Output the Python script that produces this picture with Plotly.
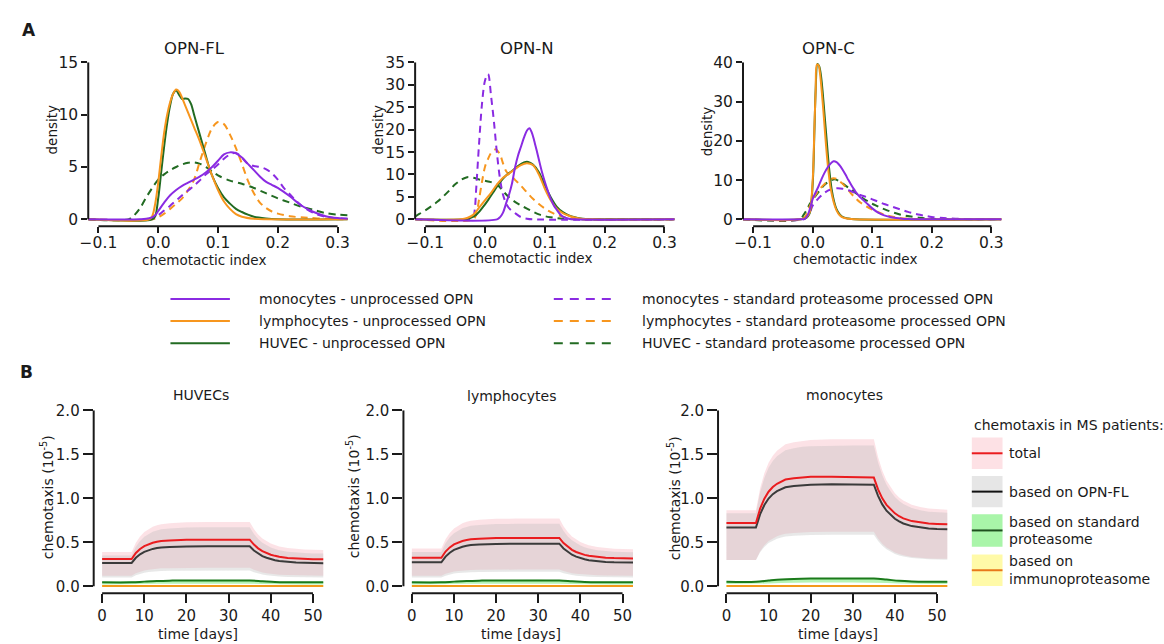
import plotly.graph_objects as go

W, H = 1164, 644


def fx(px):
    """pixel column -> paper x"""
    return px / W


def fy(py):
    """pixel row -> paper y"""
    return 1 - py / H


FONT = "DejaVu Sans"
INK = "#1a1a1a"
PURPLE = "#8a2be2"
ORANGE = "#f7961e"
GREEN = "#226b22"

# ---------------- Panel A: density of the chemotactic index ----------------
# (chemotactic index, density) pairs
FL_MONO = [(-0.117, 0), (-0.03, 0), (-0.015, 0.1), (-0.005, 0.4), (0.0, 0.8), (0.01, 1.6), (0.02, 2.3),
           (0.03, 2.8), (0.04, 3.2), (0.05, 3.5), (0.06, 3.8), (0.07, 4.1), (0.08, 4.5), (0.09, 5.0),
           (0.1, 5.6), (0.11, 6.2), (0.12, 6.4), (0.13, 6.3), (0.14, 5.9), (0.15, 5.3), (0.16, 4.7),
           (0.17, 4.1), (0.18, 3.6), (0.19, 3.3), (0.2, 3.0), (0.22, 2.2), (0.24, 1.3), (0.26, 0.7),
           (0.28, 0.3), (0.3, 0.12), (0.317, 0.05)]
FL_MONO_DASH = [(-0.117, 0), (-0.015, 0), (-0.005, 0.2), (0.0, 0.4), (0.01, 0.85), (0.02, 1.3), (0.03, 1.8),
                (0.04, 2.3), (0.05, 2.75), (0.06, 3.2), (0.07, 3.75), (0.08, 4.3), (0.09, 4.75), (0.1, 5.25),
                (0.11, 5.8), (0.12, 6.2), (0.13, 6.35), (0.14, 5.9), (0.15, 5.3), (0.16, 5.1), (0.17, 5.0),
                (0.18, 4.8), (0.19, 4.4), (0.2, 3.8), (0.21, 3.0), (0.22, 2.4), (0.23, 1.8), (0.24, 1.3),
                (0.26, 0.6), (0.28, 0.25), (0.3, 0.1), (0.317, 0.05)]
FL_LYMPH = [(-0.117, 0), (-0.015, 0), (-0.01, 0.3), (-0.005, 1.5), (0.0, 3.5), (0.005, 6.0), (0.01, 8.3),
            (0.015, 10.0), (0.02, 11.2), (0.025, 12.0), (0.03, 12.4), (0.035, 12.2), (0.04, 11.6),
            (0.045, 10.9), (0.05, 10.2), (0.06, 8.8), (0.07, 7.4), (0.08, 5.8), (0.09, 4.2), (0.1, 2.8),
            (0.11, 1.7), (0.12, 1.0), (0.13, 0.5), (0.14, 0.25), (0.16, 0.05), (0.18, 0), (0.317, 0)]
FL_LYMPH_DASH = [(-0.117, 0), (-0.01, 0), (0.0, 0.2), (0.01, 0.55), (0.02, 1.0), (0.03, 1.5), (0.04, 2.0),
                 (0.05, 2.8), (0.06, 3.8), (0.07, 5.6), (0.08, 7.3), (0.09, 8.7), (0.1, 9.3), (0.11, 9.1),
                 (0.12, 8.1), (0.13, 6.8), (0.14, 5.3), (0.15, 3.7), (0.16, 2.5), (0.17, 1.6), (0.18, 1.1),
                 (0.19, 0.75), (0.2, 0.55), (0.22, 0.3), (0.25, 0.15), (0.28, 0.05), (0.317, 0)]
FL_HUVEC = [(-0.117, 0), (-0.01, 0), (-0.005, 0.3), (0.0, 2.0), (0.005, 4.5), (0.01, 7.0), (0.015, 9.2),
            (0.02, 10.9), (0.025, 12.0), (0.03, 12.3), (0.035, 11.9), (0.04, 11.5), (0.045, 11.55),
            (0.05, 11.5), (0.055, 11.0), (0.06, 10.0), (0.065, 9.0), (0.07, 8.0), (0.075, 7.0), (0.08, 6.0),
            (0.085, 5.0), (0.09, 4.2), (0.1, 3.0), (0.11, 2.1), (0.12, 1.5), (0.13, 1.0), (0.14, 0.7),
            (0.15, 0.45), (0.16, 0.25), (0.18, 0.08), (0.2, 0), (0.317, 0)]
FL_HUVEC_DASH = [(-0.117, 0), (-0.05, 0), (-0.04, 0.4), (-0.03, 1.1), (-0.02, 2.1), (-0.01, 3.0), (0.0, 3.8),
                 (0.01, 4.3), (0.02, 4.7), (0.03, 5.0), (0.04, 5.25), (0.05, 5.4), (0.06, 5.45), (0.07, 5.3),
                 (0.08, 5.0), (0.09, 4.6), (0.1, 4.2), (0.12, 3.7), (0.14, 3.4), (0.16, 3.0), (0.18, 2.5),
                 (0.2, 2.0), (0.22, 1.6), (0.24, 1.2), (0.26, 0.9), (0.28, 0.6), (0.3, 0.45), (0.317, 0.4)]

N_MONO = [(-0.117, 0), (0.02, 0), (0.025, 0.5), (0.03, 1.5), (0.035, 3.5), (0.04, 5.5), (0.045, 8.0),
          (0.05, 11.5), (0.055, 14.2), (0.06, 16.2), (0.065, 18.2), (0.07, 19.8), (0.074, 20.3),
          (0.078, 19.4), (0.082, 17.6), (0.086, 15.5), (0.09, 13.3), (0.095, 10.6), (0.1, 8.3),
          (0.105, 6.3), (0.11, 4.5), (0.115, 3.1), (0.12, 2.1), (0.125, 1.2), (0.13, 0.6), (0.14, 0.15),
          (0.15, 0), (0.317, 0)]
N_MONO_DASH = [(-0.117, 0), (-0.025, 0), (-0.02, 0.3), (-0.017, 2.5), (-0.015, 6.5), (-0.01, 17),
               (-0.005, 26), (0.0, 31), (0.005, 32.4), (0.01, 27.5), (0.015, 21.5), (0.02, 14.5),
               (0.025, 9), (0.03, 5.5), (0.035, 3.6), (0.04, 2.5), (0.05, 1.4), (0.06, 0.5), (0.07, 0.15),
               (0.08, 0), (0.317, 0)]
N_LYMPH = [(-0.117, 0), (-0.04, 0), (-0.03, 0.3), (-0.02, 1.0), (-0.01, 2.6), (0.0, 4.3), (0.01, 5.9),
           (0.02, 7.8), (0.03, 9.3), (0.04, 10.2), (0.05, 11.2), (0.06, 12.1), (0.07, 12.5), (0.08, 12.1),
           (0.09, 10.0), (0.1, 6.8), (0.11, 4.2), (0.12, 2.4), (0.13, 1.4), (0.14, 0.8), (0.15, 0.4),
           (0.16, 0.15), (0.18, 0), (0.317, 0)]
N_LYMPH_DASH = [(-0.117, 0), (-0.02, 0), (-0.015, 1.0), (-0.01, 4.5), (-0.005, 8.5), (0.0, 11.8),
                (0.005, 13.5), (0.01, 14.8), (0.018, 15.6), (0.025, 14.4), (0.03, 12.5), (0.035, 10.8),
                (0.04, 10.0), (0.045, 9.5), (0.05, 8.8), (0.06, 7.5), (0.07, 6.0), (0.08, 4.6), (0.09, 3.4),
                (0.1, 2.4), (0.11, 1.6), (0.12, 1.0), (0.13, 0.6), (0.14, 0.3), (0.16, 0.05), (0.317, 0)]
N_HUVEC = [(-0.117, 0), (-0.035, 0), (-0.025, 0.3), (-0.015, 1.0), (-0.005, 2.5), (0.005, 4.3), (0.015, 6.3),
           (0.025, 8.3), (0.035, 9.8), (0.045, 10.8), (0.055, 11.9), (0.065, 12.7), (0.072, 12.8),
           (0.08, 12.2), (0.09, 10.5), (0.1, 7.6), (0.11, 4.9), (0.12, 2.8), (0.13, 1.6), (0.14, 0.9),
           (0.15, 0.45), (0.16, 0.2), (0.18, 0.03), (0.2, 0), (0.317, 0)]
N_HUVEC_DASH = [(-0.117, 0.6), (-0.11, 1.2), (-0.1, 2.0), (-0.09, 2.9), (-0.08, 3.9), (-0.07, 5.1),
                (-0.06, 6.4), (-0.05, 7.8), (-0.04, 8.8), (-0.03, 9.4), (-0.02, 9.3), (-0.01, 8.9),
                (0.0, 8.6), (0.01, 8.3), (0.02, 7.8), (0.03, 6.3), (0.04, 4.9), (0.05, 3.9), (0.06, 3.1),
                (0.07, 2.4), (0.08, 1.7), (0.09, 1.1), (0.1, 0.7), (0.11, 0.45), (0.12, 0.25), (0.13, 0.12),
                (0.15, 0.02), (0.317, 0)]

C_MONO = [(-0.117, 0), (-0.02, 0), (-0.013, 0.15), (-0.008, 1.2), (-0.004, 3.0), (0.0, 5.2), (0.005, 6.9),
          (0.01, 8.5), (0.015, 10.3), (0.02, 11.9), (0.025, 13.2), (0.03, 14.2), (0.035, 14.8), (0.04, 14.6),
          (0.045, 13.8), (0.05, 12.7), (0.055, 11.4), (0.06, 10.0), (0.065, 8.7), (0.07, 7.5), (0.075, 6.4),
          (0.08, 5.6), (0.085, 4.9), (0.09, 4.2), (0.1, 2.8), (0.11, 1.7), (0.12, 1.0), (0.13, 0.6),
          (0.14, 0.35), (0.15, 0.18), (0.16, 0.08), (0.18, 0), (0.317, 0)]
C_MONO_DASH = [(-0.117, 0), (-0.015, 0), (-0.01, 0.5), (-0.005, 1.6), (0.0, 3.5), (0.01, 5.4), (0.02, 6.8),
               (0.03, 7.6), (0.04, 7.9), (0.05, 7.8), (0.06, 7.4), (0.07, 6.8), (0.08, 6.2), (0.09, 5.7),
               (0.1, 5.1), (0.11, 4.5), (0.12, 3.9), (0.13, 3.4), (0.14, 2.9), (0.15, 2.4), (0.16, 1.9),
               (0.17, 1.5), (0.18, 1.15), (0.19, 0.85), (0.2, 0.6), (0.22, 0.32), (0.24, 0.15), (0.26, 0.05),
               (0.28, 0), (0.317, 0)]
C_LYMPH = [(-0.117, 0), (-0.02, 0), (-0.01, 0.6), (-0.005, 1.8), (0.0, 10), (0.003, 24), (0.005, 33),
           (0.007, 39.4), (0.01, 39.2), (0.012, 37.5), (0.015, 33), (0.018, 27.5), (0.021, 21.5),
           (0.024, 16), (0.027, 11.5), (0.03, 8.0), (0.035, 4.5), (0.04, 2.3), (0.045, 1.1), (0.05, 0.5),
           (0.06, 0.15), (0.07, 0), (0.317, 0)]
C_LYMPH_DASH = [(-0.117, 0), (-0.02, 0), (-0.013, 0.6), (-0.005, 3.3), (0.0, 5.0), (0.01, 7.4), (0.02, 9.0),
                (0.03, 10.2), (0.035, 10.5), (0.04, 10.3), (0.05, 9.1), (0.06, 7.4), (0.07, 5.7), (0.08, 4.3),
                (0.09, 3.3), (0.1, 2.5), (0.11, 1.8), (0.12, 1.2), (0.13, 0.8), (0.14, 0.5), (0.16, 0.17),
                (0.18, 0.05), (0.2, 0), (0.317, 0)]
C_HUVEC = [(-0.117, 0), (-0.02, 0), (-0.01, 0.5), (-0.005, 1.6), (0.0, 9), (0.003, 23), (0.005, 33),
           (0.008, 39.6), (0.011, 39.0), (0.014, 36.5), (0.017, 32), (0.02, 26.5), (0.023, 21),
           (0.026, 15.5), (0.029, 11), (0.032, 7.5), (0.036, 4.5), (0.04, 2.6), (0.045, 1.3), (0.05, 0.6),
           (0.06, 0.2), (0.07, 0), (0.317, 0)]
C_HUVEC_DASH = [(-0.117, 0), (-0.022, 0), (-0.015, 1.2), (-0.01, 2.4), (-0.005, 3.9), (0.0, 5.0), (0.01, 7.0),
                (0.02, 8.8), (0.03, 9.9), (0.037, 10.2), (0.045, 9.7), (0.055, 8.6), (0.065, 7.6),
                (0.075, 6.4), (0.085, 5.3), (0.095, 4.4), (0.105, 3.6), (0.115, 2.9), (0.125, 2.3),
                (0.135, 1.75), (0.145, 1.3), (0.155, 0.95), (0.165, 0.7), (0.18, 0.38), (0.2, 0.12),
                (0.22, 0.02), (0.317, 0)]

A_XTICKS = [-0.1, 0.0, 0.1, 0.2, 0.3]
A_PANELS = [
    dict(title="OPN-FL", left=80, right=342, ymax=15, yticks=[0, 5, 10, 15],
         curves=[FL_HUVEC_DASH, FL_LYMPH_DASH, FL_MONO_DASH, FL_HUVEC, FL_LYMPH, FL_MONO],
         title_xy=(187, 40), ylab_xy=(43, 123), xlab_xy=(197, 255)),
    dict(title="OPN-N", left=410, right=672, ymax=35, yticks=[0, 5, 10, 15, 20, 25, 30, 35],
         curves=[N_HUVEC_DASH, N_LYMPH_DASH, N_MONO_DASH, N_HUVEC, N_LYMPH, N_MONO],
         title_xy=(523, 40), ylab_xy=(372, 122), xlab_xy=(526, 253)),
    dict(title="OPN-C", left=741, right=1002, ymax=40, yticks=[0, 10, 20, 30, 40],
         curves=[C_HUVEC_DASH, C_LYMPH_DASH, C_MONO_DASH, C_HUVEC, C_LYMPH, C_MONO],
         title_xy=(827, 40), ylab_xy=(705, 124), xlab_xy=(854, 254)),
]
CURVE_STYLES = [(GREEN, "7px,5px"), (ORANGE, "7px,5px"), (PURPLE, "7px,5px"),
                (GREEN, "solid"), (ORANGE, "solid"), (PURPLE, "solid")]

A_LEGEND = [
    ("monocytes - unprocessed OPN", PURPLE, "solid", 0, 295),
    ("lymphocytes - unprocessed OPN", ORANGE, "solid", 0, 317.5),
    ("HUVEC - unprocessed OPN", GREEN, "solid", 0, 340),
    ("monocytes - standard proteasome processed OPN", PURPLE, "9px,7px", 1, 295),
    ("lymphocytes - standard proteasome processed OPN", ORANGE, "9px,7px", 1, 317.5),
    ("HUVEC - standard proteasome processed OPN", GREEN, "9px,7px", 1, 340),
]

# ---------------- Panel B: simulated chemotaxis over time ----------------
T = [0, 7, 8, 9, 10, 11, 12, 13, 14, 16, 18, 20, 25, 30, 35, 36, 37, 38, 39, 40, 41, 42, 44, 46, 48, 50, 52.5]

HUV_TOTAL = [.310, .310, .378, .424, .457, .479, .495, .506, .515, .521, .526, .528, .530, .530, .530,
             .474, .431, .400, .377, .359, .346, .335, .322, .315, .310, .308, .307]
HUV_TOTAL_HI = [.39, .39, .495, .567, .618, .652, .676, .693, .706, .716, .723, .727, .73, .73, .73,
                .65, .589, .544, .512, .487, .468, .453, .434, .424, .418, .414, .412]
HUV_TOTAL_LO = [.12, .12, .148, .167, .18, .189, .196, .2, .204, .206, .208, .209, .21, .21, .21,
                .188, .17, .158, .149, .142, .136, .132, .127, .124, .122, .121, .12]
HUV_FL = [.265, .265, .324, .364, .392, .411, .425, .434, .442, .447, .451, .453, .455, .455, .455,
          .407, .370, .343, .324, .308, .297, .288, .277, .270, .267, .265, .263]
HUV_FL_HI = [.35, .35, .449, .516, .564, .596, .619, .635, .648, .657, .664, .667, .67, .67, .67,
             .595, .538, .496, .466, .442, .424, .41, .393, .383, .377, .374, .372]
HUV_FL_LO = [.10, .10, .125, .142, .154, .162, .167, .171, .174, .177, .178, .179, .18, .18, .18,
             .16, .145, .134, .126, .119, .114, .111, .106, .103, .102, .101, .10]

LYM_TOTAL = [.325, .325, .395, .442, .476, .498, .514, .525, .534, .541, .546, .548, .55, .55, .55,
             .491, .447, .414, .390, .371, .357, .347, .333, .325, .321, .318, .317]
LYM_TOTAL_HI = [.43, .43, .535, .607, .658, .692, .716, .733, .746, .756, .763, .767, .77, .77, .77,
                .683, .616, .567, .532, .504, .483, .467, .447, .435, .428, .425, .422]
LYM_TOTAL_LO = [.12, .12, .142, .156, .167, .174, .179, .182, .185, .187, .189, .189, .19, .19, .19,
                .173, .159, .149, .142, .137, .133, .129, .125, .123, .122, .121, .12]
LYM_FL = [.272, .272, .338, .382, .414, .435, .450, .461, .469, .476, .480, .482, .484, .484, .484,
          .430, .389, .359, .337, .320, .307, .297, .284, .277, .273, .271, .270]
LYM_FL_HI = [.39, .39, .489, .556, .604, .636, .659, .675, .688, .697, .704, .707, .71, .71, .71,
             .629, .567, .522, .489, .463, .444, .429, .41, .399, .393, .39, .387]
LYM_FL_LO = [.10, .10, .12, .134, .144, .15, .155, .158, .16, .162, .164, .164, .165, .165, .165,
             .149, .136, .127, .121, .116, .112, .109, .105, .103, .102, .101, .10]

MON_TOTAL = [.72, .72, .884, .996, 1.075, 1.128, 1.165, 1.192, 1.213, 1.229, 1.239, 1.245, 1.246, 1.242, 1.236,
             1.102, 1.0, .925, .872, .829, .796, .772, .741, .723, .713, .708, .704]
MON_TOTAL_HI = [.865, .865, 1.115, 1.284, 1.404, 1.485, 1.541, 1.581, 1.614, 1.638, 1.654, 1.662, 1.67, 1.67, 1.67,
                1.469, 1.316, 1.203, 1.123, 1.058, 1.01, .974, .926, .90, .884, .876, .871]
MON_TOTAL_LO = [.30, .30, .399, .466, .514, .546, .569, .585, .598, .607, .614, .617, .62, .62, .62,
                .543, .484, .44, .409, .384, .366, .352, .334, .323, .317, .314, .312]
MON_FL = [.667, .667, .82, .923, .997, 1.047, 1.081, 1.106, 1.125, 1.14, 1.15, 1.155, 1.16, 1.158, 1.155,
          1.028, .931, .859, .808, .767, .737, .714, .684, .667, .657, .652, .649]
MON_FL_HI = [.83, .83, 1.069, 1.23, 1.346, 1.423, 1.477, 1.515, 1.546, 1.569, 1.585, 1.592, 1.60, 1.60, 1.60,
             1.408, 1.261, 1.153, 1.076, 1.015, .969, .934, .889, .863, .848, .841, .835]
MON_FL_LO = [.30, .30, .388, .448, .491, .519, .539, .554, .565, .574, .579, .582, .585, .585, .585,
             .514, .46, .42, .391, .368, .351, .338, .322, .312, .307, .304, .302]

# proteasome contributions, coarser time grid
TG = [0, 7, 10, 13, 16, 20, 30, 35, 38, 41, 44, 48, 52.5]
HUV_STD = [.045, .045, .053, .060, .064, .066, .066, .065, .057, .049, .046, .045, .045]
HUV_STD_HI = [.051, .051, .059, .066, .070, .072, .072, .071, .063, .055, .052, .051, .051]
HUV_STD_LO = [.020, .020, .024, .028, .030, .031, .031, .030, .027, .023, .021, .020, .020]
LYM_STD = [.045, .045, .053, .060, .064, .066, .067, .066, .058, .050, .046, .045, .045]
LYM_STD_HI = [.051, .051, .059, .066, .070, .072, .073, .072, .064, .056, .052, .051, .051]
LYM_STD_LO = [.020, .020, .024, .028, .030, .031, .031, .030, .027, .023, .021, .020, .020]
MON_STD = [.052, .052, .065, .077, .084, .088, .089, .088, .076, .062, .055, .052, .052]
MON_STD_HI = [.058, .058, .071, .083, .090, .094, .095, .094, .082, .068, .061, .058, .058]
MON_STD_LO = [.025, .025, .031, .037, .040, .042, .043, .042, .037, .031, .027, .025, .025]
IMM = [.002, .002, .003, .003, .003, .003, .003, .003, .003, .003, .002, .002, .002]
IMM_HI = [.012, .012, .013, .014, .014, .014, .014, .014, .014, .013, .012, .012, .012]
IMM_LO = [-.004, -.004, -.004, -.004, -.004, -.004, -.004, -.004, -.004, -.004, -.004, -.004, -.004]

B_XTICKS = [0, 10, 20, 30, 40, 50]
B_YTICKS = [0.0, 0.5, 1.0, 1.5, 2.0]
B_PANELS = [
    dict(title="HUVECs", left=85.5, right=317.5,
         total=(HUV_TOTAL, HUV_TOTAL_HI, HUV_TOTAL_LO), fl=(HUV_FL, HUV_FL_HI, HUV_FL_LO),
         std=(HUV_STD, HUV_STD_HI, HUV_STD_LO),
         title_xy=(194, 393), ylab_xy=(38, 497), xlab_xy=(191, 636)),
    dict(title="lymphocytes", left=398.2, right=630,
         total=(LYM_TOTAL, LYM_TOTAL_HI, LYM_TOTAL_LO), fl=(LYM_FL, LYM_FL_HI, LYM_FL_LO),
         std=(LYM_STD, LYM_STD_HI, LYM_STD_LO),
         title_xy=(507.5, 394), ylab_xy=(347, 496), xlab_xy=(517, 636)),
    dict(title="monocytes", left=715.8, right=947.5,
         total=(MON_TOTAL, MON_TOTAL_HI, MON_TOTAL_LO), fl=(MON_FL, MON_FL_HI, MON_FL_LO),
         std=(MON_STD, MON_STD_HI, MON_STD_LO),
         title_xy=(843, 393), ylab_xy=(672, 498), xlab_xy=(837, 636)),
]

RED = "#ea1c1f"
DARK = "#3a3a3a"
BGREEN = "#1b7a1b"
BORANGE = "#f39a1b"
PINK_FILL = "rgba(248,185,196,0.42)"
GRAY_FILL = "rgba(185,185,185,0.32)"
GREEN_FILL = "rgba(120,235,120,0.55)"
YELLOW_FILL = "rgba(255,240,90,0.55)"

B_LEGEND = [
    (["total"], "#fde1e5", RED, 436, 468),
    (["based on OPN-FL"], "#e6e6e6", "#111111", 475, 507),
    (["based on standard", "proteasome"], "#a9f5a9", "#1e4f1e", 514, 547),
    (["based on", "immunoproteasome"], "#fffaa8", "#e8781a", 555, 587),
]

# ---------------------------------------------------------------------------
fig = go.Figure()
layout = dict(width=W, height=H, margin=dict(l=0, r=0, t=0, b=0),
              paper_bgcolor="white", plot_bgcolor="white", showlegend=False,
              font=dict(family=FONT, color=INK))
shapes = []
annotations = []


def text(s, x, y, size, xanchor="center", angle=0, bold=False):
    annotations.append(dict(text=f"<b>{s}</b>" if bold else s, x=fx(x), y=fy(y), xref="paper", yref="paper",
                            xanchor=xanchor, yanchor="middle", textangle=angle, showarrow=False,
                            font=dict(family=FONT, size=size, color=INK)))


def add_axes(n, left, right, top, bottom, xrange, yrange, xticks, yticks, xfmt, yfmt, size, xlen, ylen,
             xstandoff=0):
    s = "" if n == 1 else str(n)
    common = dict(ticks="outside", tickwidth=2, tickcolor=INK, showline=False, showgrid=False,
                  zeroline=False, fixedrange=True, tickfont=dict(family=FONT, size=size, color=INK))
    layout["xaxis" + s] = dict(domain=[fx(left), fx(right)], range=xrange, anchor="y" + s,
                               tickvals=xticks, tickformat=xfmt, ticklen=xlen,
                               ticklabelstandoff=xstandoff, **common)
    layout["yaxis" + s] = dict(domain=[fy(bottom), fy(top)], range=yrange, anchor="x" + s,
                               tickvals=yticks, tickformat=yfmt, ticklen=ylen, **common)
    # trimmed spines
    shapes.append(dict(type="line", xref="x" + s, yref="y" + s + " domain", x0=xticks[0], x1=xticks[-1],
                       y0=0, y1=0, line=dict(color=INK, width=2)))
    shapes.append(dict(type="line", xref="x" + s + " domain", yref="y" + s, x0=0, x1=0,
                       y0=yticks[0], y1=yticks[-1], line=dict(color=INK, width=2)))
    return "x" + s, "y" + s


# ---- panel A ----
A_TOP, A_ZERO, A_BOTTOM = 54.3, 214, 221
for i, p in enumerate(A_PANELS):
    ymin = -(A_BOTTOM - A_ZERO) * p["ymax"] / (A_ZERO - A_TOP)
    xa, ya = add_axes(i + 1, p["left"], p["right"], A_TOP, A_BOTTOM, [-0.117, 0.317], [ymin, p["ymax"]],
                      A_XTICKS, p["yticks"], ".1f", "d", 15.5, 6, 6, xstandoff=-4)
    for pts, (color, dash) in zip(p["curves"], CURVE_STYLES):
        fig.add_trace(go.Scatter(x=[q[0] for q in pts], y=[q[1] for q in pts], mode="lines",
                                 line=dict(color=color, width=2, dash=dash, shape="spline", smoothing=0.9),
                                 xaxis=xa, yaxis=ya, hoverinfo="skip"))
    text(p["title"], *p["title_xy"], 16.5)
    text("density", *p["ylab_xy"], 13.5, angle=-90)
    text("chemotactic index", *p["xlab_xy"], 13.5)

text("A", 20, 21, 17, bold=True)

for label, color, dash, col, y in A_LEGEND:
    x0, x1, tx = (163, 223, 250) if col == 0 else (550, 612, 637)
    shapes.append(dict(type="line", xref="paper", yref="paper", x0=fx(x0), x1=fx(x1), y0=fy(y), y1=fy(y),
                       line=dict(color=color, width=2, dash=dash)))
    text(label, tx, y, 14, xanchor="left")

# ---- panel B ----
B_TOP, B_BOTTOM = 408.3, 594.3


def band(hi, lo, t, fill, xa, ya):
    fig.add_trace(go.Scatter(x=t, y=hi, mode="lines", line=dict(width=0, color=fill),
                             xaxis=xa, yaxis=ya, hoverinfo="skip"))
    fig.add_trace(go.Scatter(x=t, y=lo, mode="lines", line=dict(width=0, color=fill), fill="tonexty",
                             fillcolor=fill, xaxis=xa, yaxis=ya, hoverinfo="skip"))


for i, p in enumerate(B_PANELS):
    xa, ya = add_axes(i + 4, p["left"], p["right"], B_TOP, B_BOTTOM, [-2, 52.5], [-0.078, 2.0],
                      B_XTICKS, B_YTICKS, "d", ".1f", 15, 9, 10)
    tot, tot_hi, tot_lo = p["total"]
    fl, fl_hi, fl_lo = p["fl"]
    std, std_hi, std_lo = p["std"]
    band(tot_hi, tot_lo, T, PINK_FILL, xa, ya)
    band(fl_hi, fl_lo, T, GRAY_FILL, xa, ya)
    band(std_hi, std_lo, TG, GREEN_FILL, xa, ya)
    band(IMM_HI, IMM_LO, TG, YELLOW_FILL, xa, ya)
    fig.add_trace(go.Scatter(x=T, y=fl, mode="lines", line=dict(color=DARK, width=2),
                             xaxis=xa, yaxis=ya, hoverinfo="skip"))
    fig.add_trace(go.Scatter(x=T, y=tot, mode="lines", line=dict(color=RED, width=2),
                             xaxis=xa, yaxis=ya, hoverinfo="skip"))
    fig.add_trace(go.Scatter(x=TG, y=IMM, mode="lines", line=dict(color=BORANGE, width=2, shape="spline"),
                             xaxis=xa, yaxis=ya, hoverinfo="skip"))
    fig.add_trace(go.Scatter(x=TG, y=std, mode="lines", line=dict(color=BGREEN, width=2, shape="spline"),
                             xaxis=xa, yaxis=ya, hoverinfo="skip"))
    text(p["title"], *p["title_xy"], 14)
    text("chemotaxis (10<sup>-5</sup>)", *p["ylab_xy"], 14, angle=-90)
    text("time [days]", *p["xlab_xy"], 14)

text("B", 18, 369.5, 17, bold=True)

text("chemotaxis in MS patients:", 972, 423, 14, xanchor="left")
for lines, patch, lcolor, y0, y1 in B_LEGEND:
    shapes.append(dict(type="rect", xref="paper", yref="paper", x0=fx(972), x1=fx(1003), y0=fy(y1), y1=fy(y0),
                       fillcolor=patch, line=dict(width=0), layer="above"))
    ym = (y0 + y1) / 2
    shapes.append(dict(type="line", xref="paper", yref="paper", x0=fx(972), x1=fx(1003), y0=fy(ym), y1=fy(ym),
                       line=dict(color=lcolor, width=2)))
    if len(lines) == 1:
        text(lines[0], 1008, ym, 14, xanchor="left")
    else:
        text(lines[0], 1008, ym - 9, 14, xanchor="left")
        text(lines[1], 1008, ym + 8.5, 14, xanchor="left")

layout["shapes"] = shapes
layout["annotations"] = annotations
fig.update_layout(**layout)
fig.write_html("out.html")
